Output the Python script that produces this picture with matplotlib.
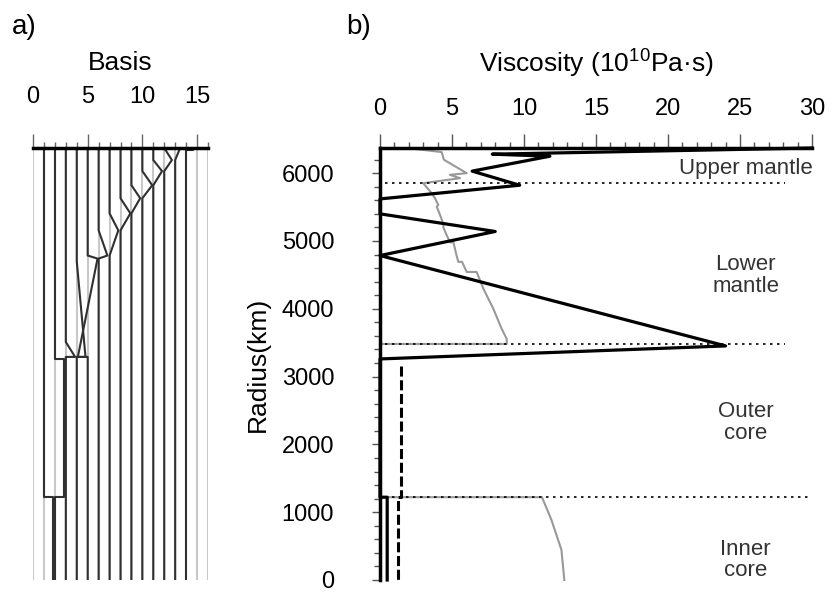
import matplotlib
matplotlib.use("Agg")
import matplotlib.pyplot as plt
from matplotlib.ticker import MultipleLocator

plt.rcParams['font.family'] = ['Liberation Sans', 'DejaVu Sans']
plt.rcParams['mathtext.fontset'] = 'custom'
plt.rcParams['mathtext.rm'] = 'Liberation Sans'

R_SURF = 6371

# ---- panel a: basis functions (offset + shape) ----
grid_x = list(range(0, 17))

# hat functions in the mantle: offset, top node, peak radius, peak amplitude, bottom node
hat_offset = [12, 11, 10, 9, 8, 7, 6]
hat_top = [6371, 6193, 6030, 5822, 5630, 5407, 5156]
hat_peak = [6193, 6030, 5822, 5630, 5407, 5156, 4785]
hat_amp = [0.7, 0.8, 0.9, 0.8, 0.9, 0.8, 0.8]
hat_bottom = [6030, 5822, 5630, 5407, 5156, 4785, 4740]

# boxcar functions: offset, bottom radius, top radius, amplitude
box_offset = [1, 2, 14]
box_rmin = [0, 1221, 6335]
box_rmax = [1221, 3260, 6371]
box_amp = [0.8, 0.8, 0.6]

# remaining basis functions, given as vertices (x, radius)
b13_x = [13.45, 13, 13]
b13_r = [6371, 6193, 0]
b5_x = [5, 5, 5.9, 4.1, 5, 5]
b5_r = [6371, 4785, 4740, 3290, 3290, 0]
b4_x = [4, 4, 4.8, 4, 4]
b4_r = [6371, 4700, 3290, 3290, 0]
b3_x = [3, 3, 3.85, 3, 3]
b3_r = [6371, 3510, 3290, 3290, 0]

# ---- panel b: viscosity profiles ----
visc_x = [30, 7.8, 11.8, 6.4, 9.7, 0, 0, 8.0, 0, 24, 0, 0, 0.5, 0.5]
visc_r = [6371, 6280, 6250, 6030, 5822, 5620, 5400, 5140, 4785, 3452, 3260, 1221, 1221, 0]

ref_x = [1.85, 4.28, 4.44, 6.02, 4.86, 5.56, 3.0, 3.59, 3.82, 4.05, 3.94, 4.17,
         4.4, 4.4, 4.6, 4.86, 5.1, 5.3, 5.44, 5.7, 6.02, 6.71, 7.18, 7.87, 8.45,
         8.8, 8.8, 0, 0, 11.25, 11.9, 12.6, 12.8]
ref_r = [6371, 6311, 6198, 6000, 5975, 5926, 5852, 5704, 5630, 5531, 5506, 5383,
         5250, 5200, 5100, 4980, 4980, 4800, 4692, 4692, 4543, 4543, 4296, 4000, 3704,
         3555, 3481, 3481, 1221, 1221, 889, 444, 0]

dash_x = [1.45, 1.45, 1.27, 1.27]
dash_r = [3160, 1221, 1221, 0]

bound_r = [5850, 3480, 1221]
bound_xmax = [28.1, 28.1, 30]

layer_names = ['Upper mantle', 'Lower\nmantle', 'Outer\ncore', 'Inner\ncore']
layer_r = [6074, 4490, 2326, 296]

fig = plt.figure(figsize=(8.32, 5.94), dpi=100)
ax_a = fig.add_axes([33/832, 14/594, 175/832, 432/594])
ax_b = fig.add_axes([380/832, 14/594, 432/832, 432/594])

# panel a
for gx in grid_x:
    ax_a.plot([gx, gx], [0, R_SURF], color='#c8c8c8', lw=1.5, zorder=1)

basis_col = '#303030'
for off, rt, rp, amp, rb in zip(hat_offset, hat_top, hat_peak, hat_amp, hat_bottom):
    ax_a.plot([off, off, off + amp, off, off], [R_SURF, rt, rp, rb, 0],
              color=basis_col, lw=1.5, zorder=2)
for off, r0, r1, amp in zip(box_offset, box_rmin, box_rmax, box_amp):
    xs = [off, off, off + amp, off + amp]
    rs = [R_SURF, r1, r1, r0]
    if r0 > 0:
        xs += [off, off]
        rs += [r0, 0]
    ax_a.plot(xs, rs, color=basis_col, lw=1.5, zorder=2)
for xs, rs in [(b13_x, b13_r), (b5_x, b5_r), (b4_x, b4_r), (b3_x, b3_r)]:
    ax_a.plot(xs, rs, color=basis_col, lw=1.5, zorder=2)

ax_a.set_xlim(0, 16)
ax_a.set_ylim(0, R_SURF)
for s in ['left', 'right', 'bottom']:
    ax_a.spines[s].set_visible(False)
ax_a.spines['top'].set_linewidth(2.5)
ax_a.xaxis.tick_top()
ax_a.set_xticks([0, 5, 10, 15])
ax_a.xaxis.set_minor_locator(MultipleLocator(1))
ax_a.tick_params(axis='x', which='major', length=10, width=1, color='#666666',
                 pad=19, labelsize=17)
ax_a.tick_params(axis='x', which='minor', length=4, width=1, color='#666666')
ax_a.set_yticks([])
ax_a.text(0.5, 1.197, 'Basis', transform=ax_a.transAxes, ha='center', va='center',
          fontsize=19)

# panel b
ax_b.plot(ref_x, ref_r, color='#999999', lw=1.5, zorder=2, clip_on=False)
for r, xm in zip(bound_r, bound_xmax):
    ax_b.plot([0.35, xm], [r, r], color='black', lw=1.2, ls=(0, (1.5, 2.7)), zorder=3)
ax_b.plot(dash_x, dash_r, color='black', lw=2.2, ls=(0, (3.3, 1.2)), zorder=3)
ax_b.plot(visc_x, visc_r, color='black', lw=2.3, zorder=4, clip_on=False)

for name, r in zip(layer_names, layer_r):
    ax_b.text(25.4, r, name, ha='center', va='center', fontsize=16,
              linespacing=1.05, color='#333333')

ax_b.set_xlim(0, 30)
ax_b.set_ylim(0, R_SURF)
ax_b.spines['right'].set_visible(False)
ax_b.spines['bottom'].set_visible(False)
ax_b.spines['top'].set_linewidth(2.5)
ax_b.spines['left'].set_linewidth(2.5)
ax_b.xaxis.tick_top()
ax_b.set_xticks([0, 5, 10, 15, 20, 25, 30])
ax_b.xaxis.set_minor_locator(MultipleLocator(1))
ax_b.set_yticks([0, 1000, 2000, 3000, 4000, 5000, 6000])
ax_b.yaxis.set_minor_locator(MultipleLocator(200))
ax_b.tick_params(axis='x', which='major', length=10, width=1, color='#555555',
                 pad=10, labelsize=17)
ax_b.tick_params(axis='x', which='minor', length=4, width=1, color='#555555')
ax_b.tick_params(axis='y', which='major', length=6, width=1, color='#555555',
                 pad=27, labelsize=17)
ax_b.tick_params(axis='y', which='minor', length=4, width=1, color='#555555')
ax_b.set_ylabel('Radius(km)', fontsize=19)
ax_b.yaxis.set_label_coords(-0.255, 0.5)
ax_b.text(0.5, 1.197, 'Viscosity (10$^{10}$Pa·s)', transform=ax_b.transAxes,
          ha='center', va='center', fontsize=19)

fig.text(12/832, 1 - 27/594, 'a)', ha='left', va='center', fontsize=20)
fig.text(346/832, 1 - 27/594, 'b)', ha='left', va='center', fontsize=20)

fig.savefig('out.png', dpi=100)
